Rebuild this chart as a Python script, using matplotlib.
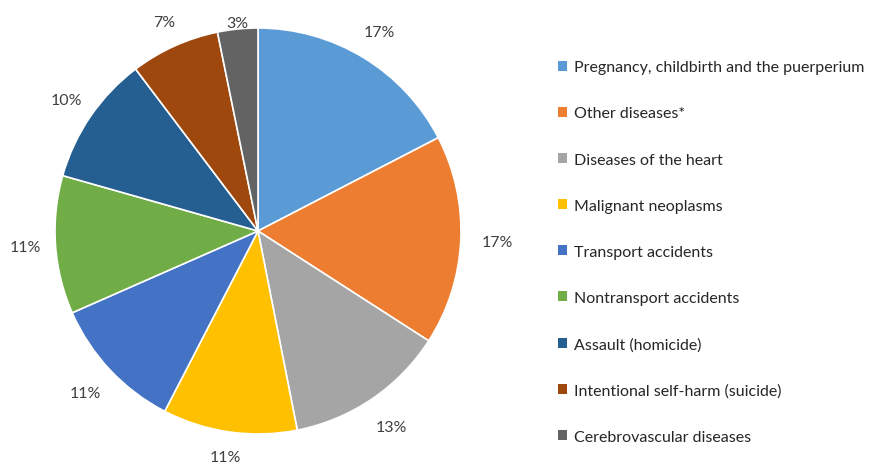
import numpy as np
import matplotlib.pyplot as plt
from matplotlib.patches import Patch

plt.rcParams['font.family'] = ['Lato', 'DejaVu Sans']

# causes and their shares (percent)
causes = ['Pregnancy, childbirth and the puerperium', 'Other diseases*',
          'Diseases of the heart', 'Malignant neoplasms', 'Transport accidents',
          'Nontransport accidents', 'Assault (homicide)',
          'Intentional self-harm (suicide)', 'Cerebrovascular diseases']
shares = [17.4, 16.7, 12.8, 10.7, 10.8, 11.0, 10.3, 7.1, 3.2]
colors = ['#5B9BD5', '#ED7D31', '#A5A5A5', '#FFC000', '#4472C4',
          '#70AD47', '#255E91', '#9E480E', '#636363']

# how far out each percent label sits (in pie radii), like Excel's best fit
label_dist = [1.146, 1.18, 1.17, 1.125, 1.165, 1.15, 1.146, 1.128, 1.03]

fig = plt.figure(figsize=(8.7, 4.64), dpi=100)
ax = fig.add_axes([55/870, 29/464, 406/870, 406/464])

wedges, texts = ax.pie(shares, colors=colors, startangle=90,
                       counterclock=False,
                       wedgeprops=dict(edgecolor='white', linewidth=1.2))
ax.set_xlim(-1, 1)
ax.set_ylim(-1, 1)
ax.set_aspect('equal')

for w, s, d in zip(wedges, shares, label_dist):
    ang = np.deg2rad((w.theta1 + w.theta2) / 2)
    ax.text(d * np.cos(ang), d * np.sin(ang), '%.0f%%' % s,
            ha='center', va='center', fontsize=11.5, color='#404040')

handles = [Patch(facecolor=c, edgecolor='none') for c in colors]
fig.legend(handles, causes, loc='upper left', bbox_to_anchor=(544/870, 1 - 47/464),
           frameon=False, fontsize=11.5, labelspacing=2.01,
           handlelength=0.55, handleheight=0.55, handletextpad=0.4,
           labelcolor='#262626')

fig.savefig('out.png', dpi=100)
